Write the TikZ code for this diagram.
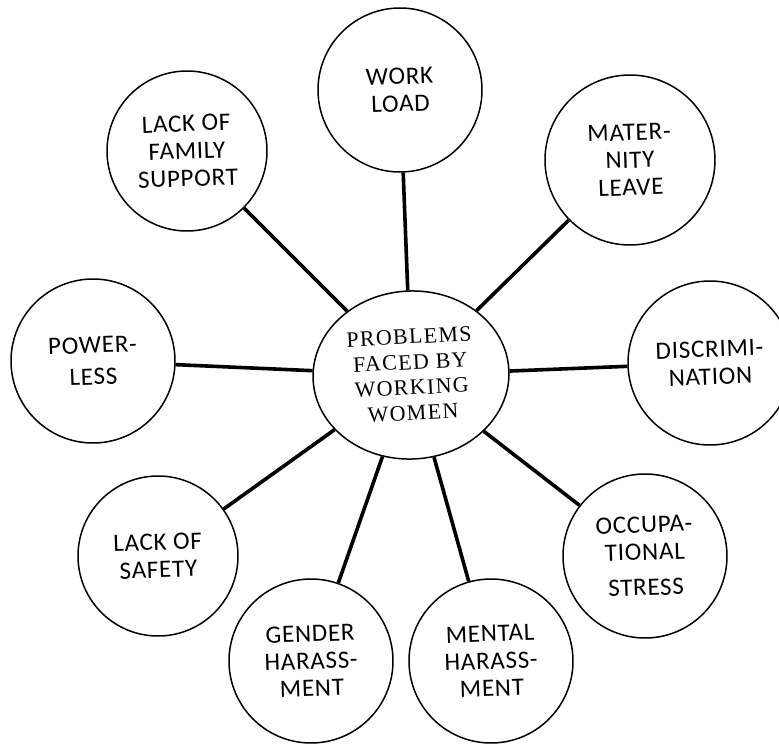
\documentclass[tikz,border=0pt]{standalone}
\usepackage{fontspec}
\setmainfont{Carlito}[LetterSpace=3]
\newfontfamily\hubfont{Liberation Serif}[LetterSpace=6]
\usetikzlibrary{shapes.geometric}
\begin{document}
\begin{tikzpicture}[x=1pt,y=-1pt,
  issue/.style={circle,draw,line width=1.5pt,inner sep=0pt,minimum size=164pt,
    align=center,rotate=2,font=\fontsize{25}{27.5}\selectfont},
  hub/.style={ellipse,draw,line width=1.5pt,inner sep=0pt,minimum width=196pt,
    minimum height=168pt,align=center,rotate=3,font=\hubfont\fontsize{22}{25.5}\selectfont},
  link/.style={line width=3.6pt}]
\clip (0,0) rectangle (779,744);
\fill[white] (0,0) rectangle (779,744);

% central topic
\node[hub] (hub) at (411,375) {PROBLEMS\\FACED BY\\WORKING\\WOMEN};

% surrounding problems
\node[issue] (work)   at (400,90)  {WORK\\LOAD};
\node[issue,minimum size=170pt] (mat) at (630,160) {MATER-\\NITY\\LEAVE};
\node[issue] (disc)   at (710,363) {DISCRIMI-\\NATION};
\node[issue] (occ)    at (645,556) {OCCUPA-\\TIONAL\\[8pt]STRESS};
\node[issue] (mental) at (491,661) {MENTAL\\HARASS-\\MENT};
\node[issue] (gender) at (311,661) {GENDER\\HARASS-\\MENT};
\node[issue,minimum size=160pt] (safety) at (158,556) {LACK OF\\SAFETY};
\node[issue] (power)  at (93,361)  {POWER-\\[4pt]LESS};
\node[issue,minimum size=160pt] (family) at (187,151) {LACK OF\\FAMILY\\SUPPORT};

% spokes
\foreach \n in {work,mat,disc,occ,mental,gender,safety,power,family}
  \draw[link] (hub) -- (\n);
\end{tikzpicture}
\end{document}
